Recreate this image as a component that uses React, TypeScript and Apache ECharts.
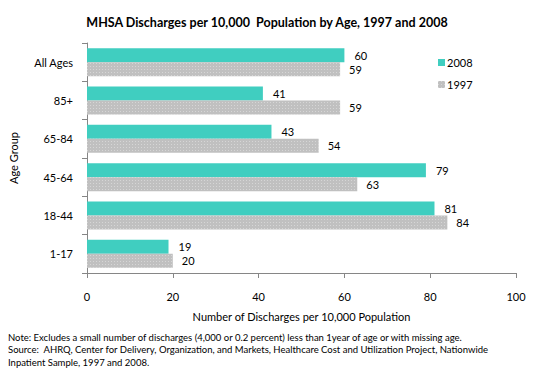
import React, { useEffect, useRef } from "react";
import * as echarts from "echarts";

const categories = ["1-17", "18-44", "45-64", "65-84", "85+", "All Ages"];
const values2008 = [19, 81, 79, 43, 41, 60];
const values1997 = [20, 84, 63, 54, 59, 59];
const xTicks = { min: 0, max: 100, interval: 20 };
const titleText = "MHSA Discharges per 10,000  Population by Age, 1997 and 2008";
const xName = "Number of Discharges per 10,000 Population";
const yName = "Age Group";
const notes = [
  "Note: Excludes a small number of discharges (4,000 or 0.2 percent) less than 1year of age or with missing age.",
  "Source:  AHRQ, Center for Delivery, Organization, and Markets, Healthcare Cost and Utilization Project, Nationwide",
  "Inpatient Sample, 1997 and 2008.",
];

const FONT = "Lato, 'Liberation Sans', sans-serif";
const TEAL = "#40CEC0";
const GRAY = "#C0C0C0";

export default function App() {
  const ref = useRef<HTMLDivElement>(null);
  useEffect(() => {
    if (!ref.current) return;
    const chart = echarts.init(ref.current, undefined, { renderer: "svg" });
    chart.setOption({
      animation: false,
      backgroundColor: "#ffffff",
      textStyle: { fontFamily: FONT, color: "#000" },
      title: {
        text: titleText,
        left: 262,
        textAlign: "center",
        top: 11,
        textStyle: { fontFamily: FONT, fontSize: 12.5, fontWeight: "bold", color: "#000" },
      },
      legend: {
        data: ["2008", "1997"],
        orient: "vertical",
        left: 433,
        top: 52,
        itemWidth: 7,
        itemHeight: 7,
        itemGap: 11,
        icon: "rect",
        textStyle: { fontFamily: FONT, fontSize: 11, color: "#000", padding: [0, 0, 0, -3] },
      },
      grid: { left: 86, right: 26, top: 43, bottom: 97, containLabel: false },
      xAxis: {
        type: "value",
        min: xTicks.min,
        max: xTicks.max,
        interval: xTicks.interval,
        name: xName,
        nameLocation: "middle",
        nameGap: 38,
        nameTextStyle: { fontFamily: FONT, fontSize: 11, color: "#000" },
        axisLine: { show: true, lineStyle: { color: "#868686" } },
        axisTick: { show: true, length: 5, lineStyle: { color: "#868686" } },
        axisLabel: { margin: 18, fontFamily: FONT, fontSize: 11, color: "#000" },
        splitLine: { show: false },
      },
      yAxis: {
        type: "category",
        data: categories,
        name: yName,
        nameLocation: "middle",
        nameGap: 68,
        nameRotate: 90,
        nameTextStyle: { fontFamily: FONT, fontSize: 11, color: "#000" },
        axisLine: { show: true, lineStyle: { color: "#868686" } },
        axisTick: { show: true, length: 5, lineStyle: { color: "#868686" } },
        axisLabel: { margin: 14, fontFamily: FONT, fontSize: 11, color: "#000" },
      },
      series: [
        {
          name: "2008",
          type: "bar",
          data: values2008,
          barWidth: 14,
          barGap: "0%",
          itemStyle: { color: TEAL },
          label: { show: true, position: "right", distance: 10, fontFamily: FONT, fontSize: 11, color: "#000" },
        },
        {
          name: "1997",
          type: "bar",
          data: values1997,
          barWidth: 14,
          barGap: "0%",
          itemStyle: {
            color: GRAY,
            decal: {
              symbol: "rect",
              symbolSize: 1,
              color: "rgba(255,255,255,0.35)",
              dashArrayX: [1, 2],
              dashArrayY: [1, 2],
              rotation: 0,
            },
          },
          label: { show: true, position: "right", distance: 9, fontFamily: FONT, fontSize: 11, color: "#000" },
        },
      ],
      graphic: notes.map((t, i) => ({
        type: "text",
        left: 8,
        top: 332 + i * 12.5,
        style: { text: t, fontFamily: FONT, fontSize: 9.5, fill: "#000" },
      })),
    });
    return () => chart.dispose();
  }, []);
  return <div ref={ref} style={{ width: 542, height: 370, position: "absolute", left: 0, top: 0 }} />;
}
